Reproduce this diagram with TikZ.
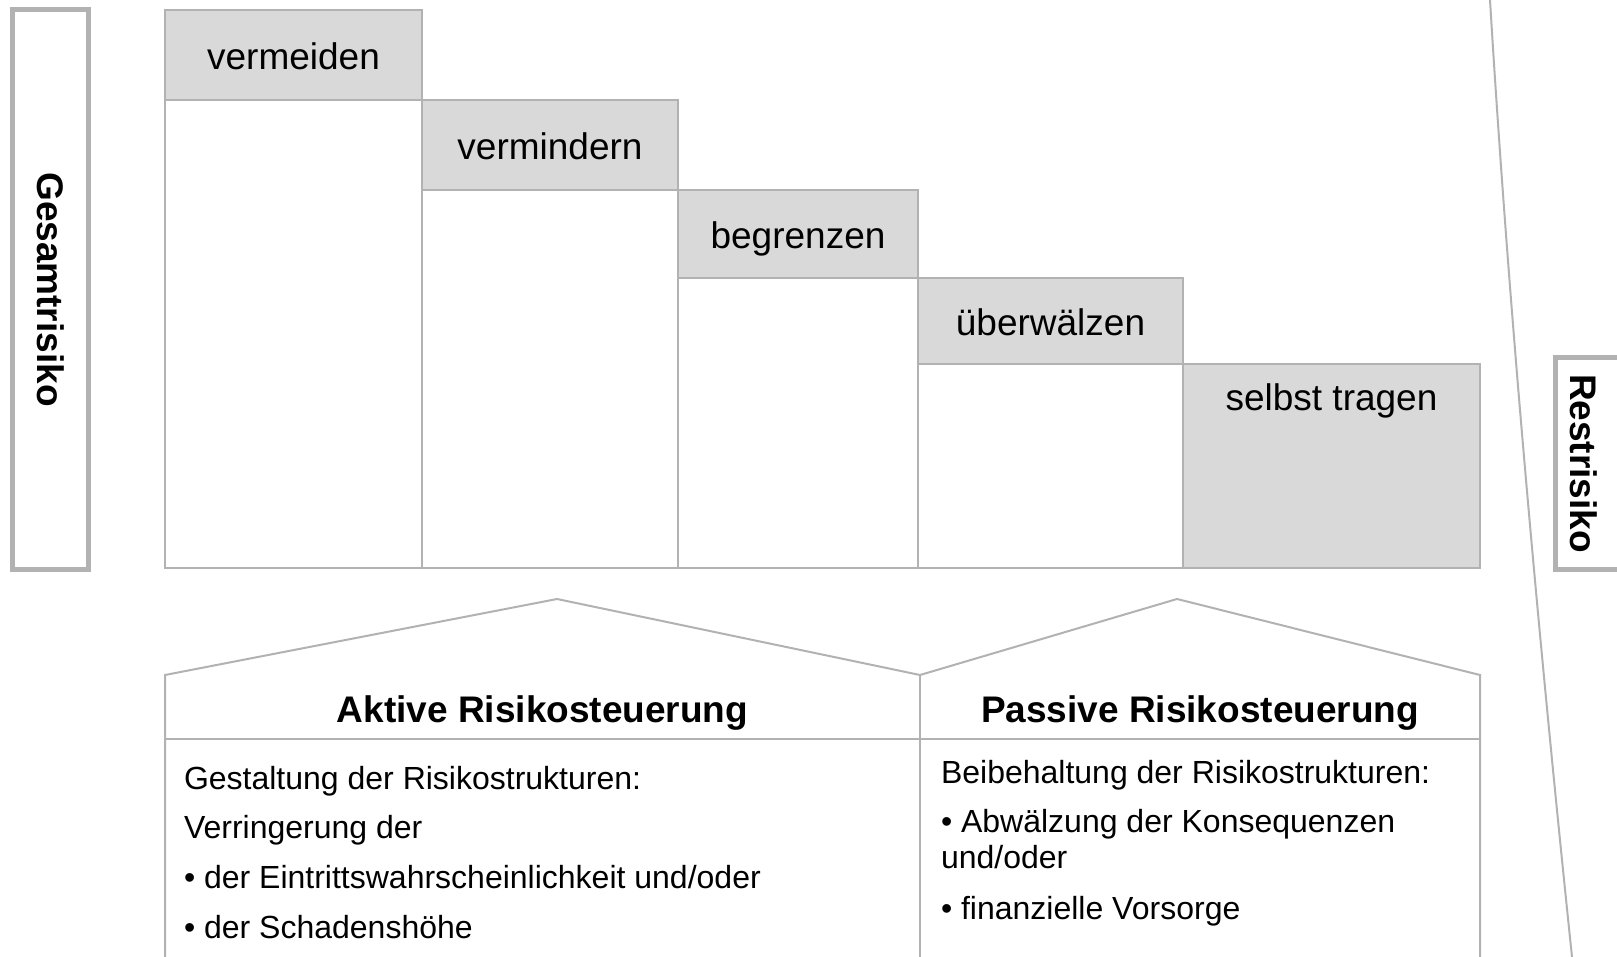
\documentclass[tikz,border=0pt]{standalone}
\usepackage{fontspec}
\setmainfont{Liberation Sans}
\usetikzlibrary{positioning}
\definecolor{linegray}{RGB}{178,178,178}
\definecolor{stepgray}{RGB}{217,217,217}

\begin{document}
\begin{tikzpicture}[
    x=1pt, y=-1pt,
    every node/.style={inner sep=0pt, outer sep=0pt},
    head/.style={rectangle, draw=linegray, fill=stepgray, line width=2pt, anchor=north west, text height=30pt, text depth=0pt, font=\fontsize{37}{44}\selectfont},
    body/.style={draw=linegray, line width=2pt},
    sidebox/.style={rectangle, draw=linegray, line width=5pt, rotate=-90},
    sidelabel/.style={rotate=-90, font=\fontsize{37}{44}\selectfont\bfseries},
    house/.style={draw=linegray, line width=2pt, line join=miter},
    housetitle/.style={anchor=base, font=\fontsize{37}{44}\selectfont\bfseries},
    housetext/.style={anchor=base west, font=\fontsize{32}{38}\selectfont}
]
\useasboundingbox (0,0) rectangle (1617,957);
\clip (0,0) rectangle (1617,957);

% side labels
\node[sidebox, minimum width=560, minimum height=76, font=\fontsize{37}{44}\selectfont\bfseries] (gesamt) at (50.5,289.5) {Gesamtrisiko};
\node[sidebox, minimum width=212, minimum height=66] (restbox) at (1588.5,463.5) {};
\node[sidelabel] (rest) at (1584,463.5) {Restrisiko};

% stairs
\coordinate (base) at (0,568);
\node[head, minimum width=257, minimum height=90] (vermeiden) at (165,10) {vermeiden};
\node[head, minimum width=256, minimum height=90] (vermindern) at (vermeiden.south east) {vermindern};
\node[head, minimum width=240, minimum height=88] (begrenzen) at (vermindern.south east) {begrenzen};
\node[head, minimum width=265, minimum height=86] (ueberwaelzen) at (begrenzen.south east) {überwälzen};
\node[head, minimum width=297, minimum height=204] (tragen) at (ueberwaelzen.south east) {};
\node[anchor=base, font=\fontsize{37}{44}\selectfont] (tragenlabel) at ([yshift=-46pt]tragen.north) {selbst tragen};

\draw[body] (vermeiden.south west) rectangle (vermeiden.south east |- base);
\draw[body] (vermindern.south west) rectangle (vermindern.south east |- base);
\draw[body] (begrenzen.south west) rectangle (begrenzen.south east |- base);
\draw[body] (ueberwaelzen.south west) rectangle (ueberwaelzen.south east |- base);

% houses
\draw[house] (165,965) -- (165,675) -- (557,599) -- (920,675) -- (1177,599) -- (1480,675) -- (1480,965);
\draw[house] (920,675) -- (920,965);
\draw[house] (165,739) -- (1480,739);

\node[housetitle] (aktiv) at (542.5,722) {Aktive Risikosteuerung};
\node[housetitle] (passiv) at (1200,722) {Passive Risikosteuerung};

\node[housetext] (a1) at (184,789) {Gestaltung der Risikostrukturen:};
\node[housetext] (a2) at (184,838) {Verringerung der};
\node[housetext] (a3) at (184,888) {• der Eintrittswahrscheinlichkeit und/oder};
\node[housetext] (a4) at (184,938) {• der Schadenshöhe};

\node[housetext] (p1) at (941,783) {Beibehaltung der Risikostrukturen:};
\node[housetext] (p2) at (941,832) {• Abwälzung der Konsequenzen};
\node[housetext] (p3) at (941,868) {und/oder};
\node[housetext] (p4) at (941,919) {• finanzielle Vorsorge};

% border line
\draw[draw=linegray, line width=2pt] (1490,0) .. controls (1506,265) and (1533,584) .. (1572,957);

\end{tikzpicture}
\end{document}
